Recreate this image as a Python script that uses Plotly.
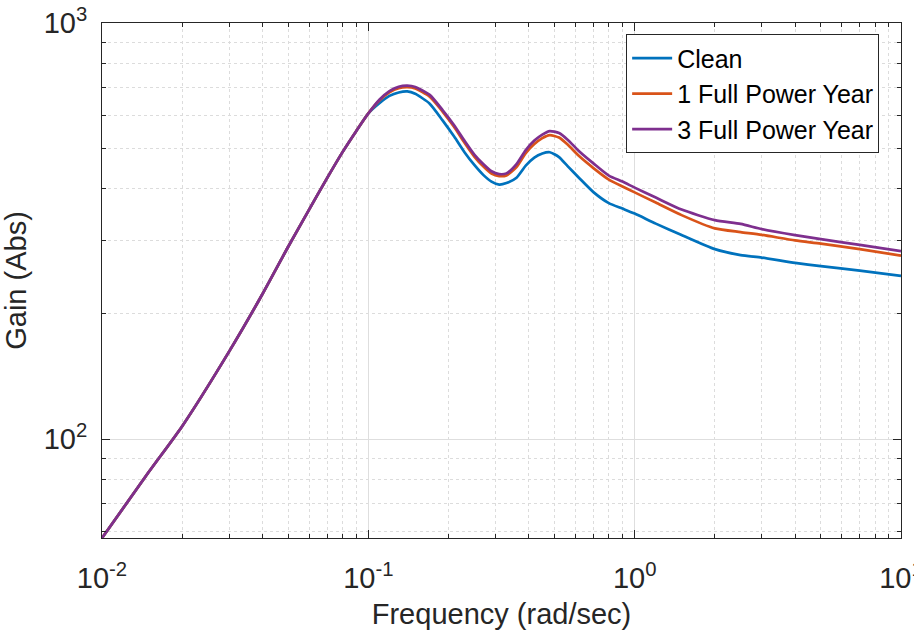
import plotly.graph_objects as go

# Frequency (rad/sec)
freq = [0.01, 0.015, 0.02, 0.03, 0.04, 0.05, 0.06, 0.07, 0.08, 0.09,
        0.1, 0.11, 0.12, 0.13, 0.14, 0.15, 0.17, 0.19, 0.21, 0.23,
        0.25, 0.27, 0.29, 0.31, 0.33, 0.36, 0.39, 0.42, 0.45, 0.48,
        0.52, 0.56, 0.62, 0.7, 0.8, 0.9, 1.0, 1.2, 1.5, 2.0,
        2.5, 3.0, 4.0, 5.0, 7.0, 10.0]

rise = [57.9, 83.5, 107.5, 162.4, 223, 290, 356.8, 424, 489.5, 549.7]

clean = rise + [606.7, 642, 668, 681, 685, 676, 640, 583.6, 533.5, 488.6,
                455.9, 431.6, 415.9, 409.1, 412.5, 425, 454.4, 475, 485.6, 489.1,
                476.3, 453.2, 423.8, 392.4, 369.2, 358.2, 348.4, 329.6, 309.5, 286.2,
                276.9, 273.1, 265.3, 260.5, 254.1, 246.9]

fpy1 = rise + [606.5, 651, 681, 697, 701, 696, 665, 612.7, 562.3, 514.7,
               477.6, 452.4, 434.7, 428.8, 430.4, 450.7, 487, 511.8, 529.1, 538,
               530.6, 510.4, 478.2, 448.2, 420.5, 404.6, 391.8, 370.3, 345.5, 321,
               314.5, 309.7, 300.4, 295.1, 286.2, 276.1]

fpy3 = rise + [606, 654, 686, 702.7, 706.9, 702, 671.8, 617.8, 568, 520.4,
               482.9, 458.2, 440.3, 433.5, 435.2, 458.2, 495.1, 521.9, 539.5, 550,
               544, 524.5, 491.3, 460, 429.9, 415.9, 402.3, 380.7, 356.2, 336.1,
               329.1, 319.8, 309.3, 302.5, 293, 283.1]

series_names = ["Clean", "1 Full Power Year", "3 Full Power Year"]
series_vals = [clean, fpy1, fpy3]
colors = ["#0072BD", "#D95319", "#7E2F8E"]

x_ticks = [0.01, 0.1, 1, 10]
x_ticktext = ["10<sup>-2</sup>", "10<sup>-1</sup>", "10<sup>0</sup>", "10<sup>1</sup>"]
y_ticks = [100, 1000]
y_ticktext = ["10<sup>2</sup>", "10<sup>3</sup>"]

x_minor = [k * 10 ** e for e in (-2, -1, 0) for k in range(2, 10)]
y_minor = [k * 10 ** e for e in (1, 2) for k in range(2, 10)]

FONT = "Liberation Sans, Arial, Helvetica, sans-serif"
AX = "#262626"

fig = go.Figure()
for name, vals, col in zip(series_names, series_vals, colors):
    fig.add_trace(go.Scatter(x=freq, y=vals, mode="lines", name=name,
                             line=dict(color=col, width=2.7, shape="spline", smoothing=0.6)))

axis_common = dict(
    type="log", showline=True, linecolor=AX, linewidth=1, mirror="ticks",
    ticks="inside", ticklen=8, tickcolor=AX, tickwidth=1, automargin=False,
    showgrid=True, gridcolor="#dedede", gridwidth=1, zeroline=False,
    tickfont=dict(family=FONT, size=29, color=AX),
)

fig.update_layout(
    width=914, height=635,
    margin=dict(l=102, r=13, t=23, b=97),
    paper_bgcolor="white", plot_bgcolor="white",
    font=dict(family=FONT, color=AX),
    showlegend=True,
    legend=dict(x=0.656, y=0.978, xanchor="left", yanchor="top",
                bgcolor="white", bordercolor="#262626", borderwidth=1,
                font=dict(family=FONT, size=25, color="black"),
                tracegroupgap=0, itemwidth=40),
    xaxis=dict(axis_common, range=[-2, 1], tickmode="array", tickvals=x_ticks,
               ticktext=x_ticktext, ticklabelstandoff=14, ticklabeloverflow="allow",
               title=dict(text="Frequency (rad/sec)", font=dict(family=FONT, size=29, color=AX), standoff=10),
               minor=dict(tickmode="array", tickvals=x_minor, ticks="inside", ticklen=4,
                          tickcolor=AX, showgrid=True, griddash="dot", gridcolor="#dcdcdc", gridwidth=1)),
    yaxis=dict(axis_common, range=[1.7627, 3], tickmode="array", tickvals=y_ticks,
               ticktext=y_ticktext, ticklabelstandoff=8, ticklabeloverflow="allow",
               title=dict(text="Gain (Abs)", font=dict(family=FONT, size=29, color=AX), standoff=10),
               minor=dict(tickmode="array", tickvals=y_minor, ticks="inside", ticklen=4,
                          tickcolor=AX, showgrid=True, griddash="dot", gridcolor="#dcdcdc", gridwidth=1)),
)

fig.write_html("out.html")
